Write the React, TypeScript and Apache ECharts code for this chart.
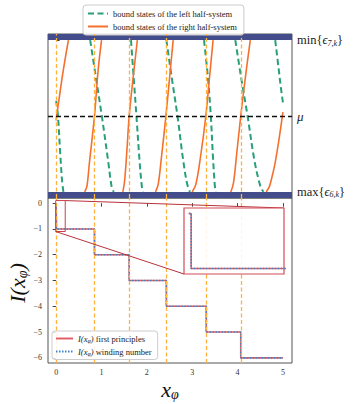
import React, { useEffect, useRef } from 'react';
import * as echarts from 'echarts';

const LEFT_NAME = 'bound states of the left half-system';
const RIGHT_NAME = 'bound states of the right half-system';
const FP_NAME = 'first principles';
const WN_NAME = 'winding number';

// green dashed curves: bound states of the left half-system (x_phi, energy level)
const leftStates: number[][][] = [
  [[0, 0.2], [0.04, 0], [0.09, -0.5], [0.13, -0.85], [0.16, -1]],
  [[0.75, 1], [0.86, 0.57], [1.007, 0], [1.15, -0.61], [1.22, -0.92], [1.27, -1]],
  [[1.65, 1], [1.71, 0.5], [1.77, 0], [1.84, -0.6], [1.89, -0.93], [1.92, -1]],
  [[2.43, 1], [2.55, 0.5], [2.675, 0], [2.8, -0.58], [2.89, -0.9], [2.95, -1]],
  [[3.26, 1], [3.35, 0.48], [3.41, 0], [3.46, -0.57], [3.5, -0.93], [3.52, -1]],
  [[3.95, 1], [4.08, 0.5], [4.22, 0], [4.37, -0.58], [4.5, -0.92], [4.57, -1]],
  [[4.83, 1], [4.9, 0.65], [4.96, 0.35], [5.0, 0.18]],
];

// orange solid curves: bound states of the right half-system
const rightStates: number[][][] = [
  [[0, -0.06], [0.01, 0], [0.07, 0.25], [0.13, 0.5], [0.2, 0.76], [0.27, 1]],
  [[0.63, -1], [0.68, -0.92], [0.734, -0.61], [0.845, 0], [0.92, 0.57], [1.0, 1]],
  [[1.47, -1], [1.51, -0.85], [1.56, -0.45], [1.61, 0], [1.7, 0.52], [1.79, 1]],
  [[2.19, -1], [2.25, -0.9], [2.32, -0.55], [2.42, 0], [2.5, 0.5], [2.58, 1]],
  [[3.0, -1], [3.08, -0.9], [3.18, -0.55], [3.3, 0], [3.38, 0.5], [3.46, 1]],
  [[3.85, -1], [3.91, -0.88], [3.98, -0.5], [4.07, 0], [4.17, 0.5], [4.28, 1]],
  [[4.63, -1], [4.7, -0.93], [4.76, -0.8], [4.83, -0.61], [4.92, -0.28], [5.0, 0.05]],
];

// x_phi where the right-system states cross mu
const crossingX = [0.01, 0.845, 1.61, 2.43, 3.31, 4.07];

// I(x_phi) step function
const stepX = [0, 0.005, 0.845, 1.61, 2.43, 3.31, 4.07, 5.0];
const stepI = [0, -1, -2, -3, -4, -5, -6, -6];

const xTicks = [0, 1, 2, 3, 4, 5];
const iTicks = [0, -1, -2, -3, -4, -5, -6];
const levelTicks = [1, 0, -1]; // min{eps_7,k}, mu, max{eps_6,k}
const muLevel = 0;
const bandTop = [1, 1.08];
const bandBottom = [-1.08, -1];

const xRange = [-0.18, 5.2];
const levelRange = [-1.08, 1.08];
const iRange = [-6.2, 0.2];
const insetX = [-0.01, 0.2];
const insetY = [-1.1, 0.1];

const FONT = 'Liberation Serif';
const GREEN = '#27a07a';
const ORANGE = '#f4702e';
const VLINE = '#ffb23e';
const BAND = '#434d8b';
const RED = '#e0606a';
const BLUE = '#3d85c6';
const SPINE = '#555';

function levelLabel(v: number): string {
  if (v === 1) return '{a|min{}{e|ϵ}{s|7,k}}';
  if (v === 0) return '{m|μ}';
  if (v === -1) return '{a|max{}{e|ϵ}{s|6,k}}';
  return '';
}

export default function App() {
  const ref = useRef<HTMLDivElement>(null);
  useEffect(() => {
    if (!ref.current) return;
    const chart = echarts.init(ref.current, null, { renderer: 'svg' });
    const stepData = stepX.map((x, i) => [x, stepI[i]]);
    const vlineStyle = { color: VLINE, type: [4, 2.5], width: 1.3 };

    const series: any[] = [];
    series.push({
      type: 'line',
      xAxisIndex: 0,
      yAxisIndex: 0,
      data: [],
      z: 1,
      silent: true,
      markLine: {
        silent: true,
        symbol: 'none',
        label: { show: false },
        lineStyle: vlineStyle,
        data: [
          ...crossingX.map((x) => ({ xAxis: x })),
          { yAxis: muLevel, lineStyle: { color: '#111', type: [5, 3], width: 1.3 } },
        ],
      },
      markArea: {
        silent: true,
        itemStyle: { color: BAND, opacity: 1 },
        data: [
          [{ yAxis: bandTop[0] }, { yAxis: bandTop[1] }],
          [{ yAxis: bandBottom[0] }, { yAxis: bandBottom[1] }],
        ],
      },
    });
    leftStates.forEach((d) =>
      series.push({
        name: LEFT_NAME,
        type: 'line',
        xAxisIndex: 0,
        yAxisIndex: 0,
        data: d,
        smooth: 0.35,
        symbol: 'none',
        z: 3,
        lineStyle: { color: GREEN, width: 2, type: [6, 3.5] },
        itemStyle: { color: GREEN },
      })
    );
    rightStates.forEach((d) =>
      series.push({
        name: RIGHT_NAME,
        type: 'line',
        xAxisIndex: 0,
        yAxisIndex: 0,
        data: d,
        smooth: 0.35,
        symbol: 'none',
        z: 3,
        lineStyle: { color: ORANGE, width: 1.6 },
        itemStyle: { color: ORANGE },
      })
    );
    series.push({
      type: 'line',
      xAxisIndex: 1,
      yAxisIndex: 1,
      data: [],
      z: 1,
      silent: true,
      markLine: {
        silent: true,
        symbol: 'none',
        label: { show: false },
        lineStyle: vlineStyle,
        data: crossingX.map((x) => ({ xAxis: x })),
      },
    });
    [1, 2].forEach((g) => {
      series.push({
        name: FP_NAME,
        type: 'line',
        xAxisIndex: g,
        yAxisIndex: g,
        data: stepData,
        step: 'end',
        symbol: 'none',
        z: g === 2 ? 12 : 3,
        lineStyle: { color: RED, width: 1.6 },
        itemStyle: { color: RED },
      });
      series.push({
        name: WN_NAME,
        type: 'line',
        xAxisIndex: g,
        yAxisIndex: g,
        data: stepData,
        step: 'end',
        symbol: 'none',
        z: g === 2 ? 13 : 4,
        lineStyle: { color: BLUE, width: 1.6, type: [1.5, 1.5] },
        itemStyle: { color: BLUE },
      });
    });

    const option: any = {
      animation: false,
      backgroundColor: '#fff',
      grid: [
        { left: 48, right: 67, top: 34, height: 164, show: true, borderColor: SPINE, borderWidth: 1, backgroundColor: 'transparent' },
        { left: 48, right: 67, top: 198, height: 165, show: true, borderColor: SPINE, borderWidth: 1, backgroundColor: 'transparent' },
        { left: 184, top: 208, width: 100, height: 66, show: true, borderColor: '#d24c55', borderWidth: 1.2, backgroundColor: 'rgba(255,255,255,0.88)', z: 10 },
      ],
      xAxis: [
        { gridIndex: 0, type: 'value', min: xRange[0], max: xRange[1], show: false },
        {
          gridIndex: 1,
          type: 'value',
          min: xRange[0],
          max: xRange[1],
          axisLine: { show: false },
          splitLine: { show: false },
          axisTick: { show: true, customValues: xTicks, length: 3.5, lineStyle: { color: '#444' } },
          axisLabel: { customValues: xTicks, fontSize: 8, color: '#333', fontFamily: FONT, margin: 5 },
        },
        { gridIndex: 2, type: 'value', min: insetX[0], max: insetX[1], show: false },
      ],
      yAxis: [
        {
          gridIndex: 0,
          type: 'value',
          position: 'right',
          min: levelRange[0],
          max: levelRange[1],
          axisLine: { show: false },
          splitLine: { show: false },
          axisTick: { show: true, customValues: levelTicks, length: 3.5, lineStyle: { color: '#444' } },
          axisLabel: {
            customValues: levelTicks,
            formatter: (v: number) => levelLabel(v),
            margin: 5,
            fontSize: 12.5,
            fontFamily: FONT,
            color: '#222',
            rich: {
              a: { fontSize: 12.5, fontFamily: FONT, color: '#222' },
              e: { fontSize: 12.5, fontFamily: FONT, fontStyle: 'italic', color: '#222' },
              s: { fontSize: 8, fontFamily: FONT, fontStyle: 'italic', color: '#222', padding: [6, 0, 0, 0] },
              m: { fontSize: 13, fontFamily: FONT, fontStyle: 'italic', color: '#222' },
            },
          },
        },
        {
          gridIndex: 1,
          type: 'value',
          min: iRange[0],
          max: iRange[1],
          axisLine: { show: false },
          splitLine: { show: false },
          axisTick: { show: true, customValues: iTicks, length: 3.5, lineStyle: { color: '#444' } },
          axisLabel: {
            customValues: iTicks,
            formatter: (v: number) => String(v).replace('-', '\u2212'),
            fontSize: 8,
            color: '#333',
            fontFamily: FONT,
            margin: 6,
          },
        },
        { gridIndex: 2, type: 'value', min: insetY[0], max: insetY[1], show: false },
      ],
      legend: [
        {
          data: [LEFT_NAME, RIGHT_NAME],
          orient: 'vertical',
          left: 83,
          top: 5,
          itemWidth: 20,
          itemHeight: 8,
          itemGap: 4,
          padding: [4, 7, 4, 4],
          borderColor: '#ccc',
          borderWidth: 1,
          borderRadius: 3,
          backgroundColor: 'rgba(255,255,255,0.85)',
          selectedMode: false,
          itemStyle: { opacity: 0 },
          textStyle: { fontFamily: FONT, fontSize: 8.5, color: '#222' },
        },
        {
          data: [FP_NAME, WN_NAME],
          orient: 'vertical',
          left: 52,
          top: 331,
          itemWidth: 17,
          itemHeight: 8,
          itemGap: 3.5,
          padding: [3, 6, 3, 3],
          borderColor: '#ccc',
          borderWidth: 1,
          borderRadius: 3,
          backgroundColor: 'rgba(255,255,255,0.85)',
          selectedMode: false,
          itemStyle: { opacity: 0 },
          z: 20,
          formatter: (n: string) => '{i|I(x}{s|φ}{i|)} ' + n,
          textStyle: {
            fontFamily: FONT,
            fontSize: 8.5,
            color: '#222',
            rich: {
              i: { fontFamily: FONT, fontSize: 8.5, fontStyle: 'italic', color: '#222' },
              s: { fontFamily: FONT, fontSize: 6, fontStyle: 'italic', color: '#222', padding: [4, 0, 0, 0] },
            },
          },
        },
      ],
      series,
    };
    chart.setOption(option);

    const p = (g: number, x: number, y: number) => chart.convertToPixel({ gridIndex: g } as any, [x, y]) as number[];
    const smTL = p(1, insetX[0], insetY[1]);
    const smBR = p(1, insetX[1], insetY[0]);
    const smTR = p(1, insetX[1], insetY[1]);
    const smBL = p(1, insetX[0], insetY[0]);
    const inTR = p(2, insetX[1], insetY[1]);
    const inBL = p(2, insetX[0], insetY[0]);

    chart.setOption({
      graphic: [
        {
          type: 'rect',
          z: 6,
          silent: true,
          shape: { x: smTL[0], y: smTL[1], width: smBR[0] - smTL[0], height: smBR[1] - smTL[1] },
          style: { fill: 'none', stroke: '#c8404a', lineWidth: 1 },
        },
        {
          type: 'line',
          z: 6,
          silent: true,
          shape: { x1: smTR[0], y1: smTR[1], x2: inTR[0], y2: inTR[1] },
          style: { stroke: '#b8323c', lineWidth: 1 },
        },
        {
          type: 'line',
          z: 6,
          silent: true,
          shape: { x1: smBL[0], y1: smBL[1], x2: inBL[0], y2: inBL[1] },
          style: { stroke: '#b8323c', lineWidth: 1 },
        },
        {
          type: 'text',
          x: 17,
          y: 283,
          rotation: Math.PI / 2,
          silent: true,
          style: {
            text: '{i|I(x}{s|φ}{i|)}',
            align: 'center',
            verticalAlign: 'middle',
            fill: '#111',
            rich: {
              i: { fontFamily: FONT, fontSize: 22, fontStyle: 'italic', fill: '#111' },
              s: { fontFamily: FONT, fontSize: 14, fontStyle: 'italic', fill: '#111', padding: [10, 0, 0, 0] },
            },
          },
        },
        {
          type: 'text',
          x: 170,
          y: 389,
          silent: true,
          style: {
            text: '{i|x}{s|φ}',
            align: 'center',
            verticalAlign: 'middle',
            fill: '#111',
            rich: {
              i: { fontFamily: FONT, fontSize: 22, fontStyle: 'italic', fill: '#111' },
              s: { fontFamily: FONT, fontSize: 14, fontStyle: 'italic', fill: '#111', padding: [10, 0, 0, 0] },
            },
          },
        },
      ],
    });

    return () => chart.dispose();
  }, []);
  return <div ref={ref} style={{ position: 'absolute', left: 0, top: 0, width: 359, height: 404 }} />;
}
